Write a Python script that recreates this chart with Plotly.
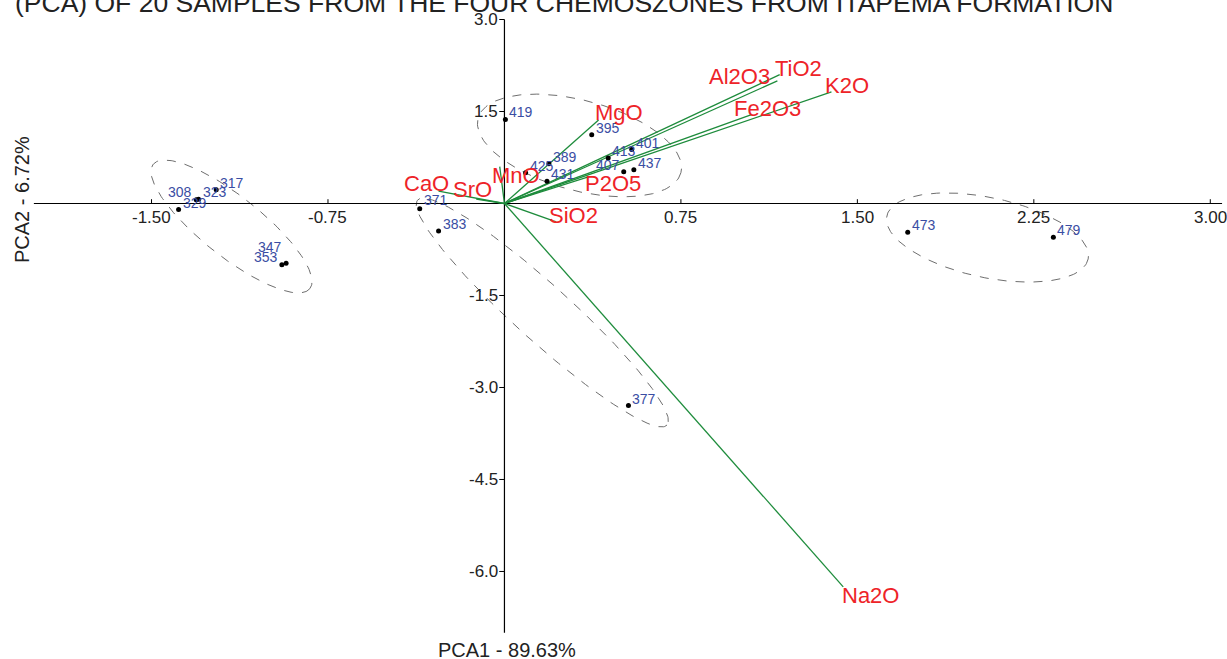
import numpy as np
import plotly.graph_objects as go

# ---------------- data ----------------
sample_ids = ["308", "317", "323", "329", "347", "353",
              "371", "377", "383",
              "389", "395", "401", "407", "413", "419", "425", "431", "437",
              "473", "479"]
pc1 = [-1.31, -1.225, -1.30, -1.385, -0.928, -0.946,
       -0.36, 0.527, -0.28,
       0.189, 0.371, 0.541, 0.507, 0.441, 0.004, 0.09, 0.181, 0.550,
       1.714, 2.333]
pc2 = [0.06, 0.225, 0.07, -0.098, -0.974, -1.0,
       -0.087, -3.295, -0.45,
       0.65, 1.12, 0.88, 0.517, 0.74, 1.37, 0.50, 0.364, 0.55,
       -0.468, -0.55]
# label side: 1 = right of dot, -1 = left of dot ; lift in px (up positive)
label_side = [-1, 1, 1, 1, -1, -1,
              1, 1, 1,
              1, 1, 1, -1, 1, 1,
              1, 1, 1,
              1, 1]
label_lift = [-2, -3, -3, -3, 6, -2,
              -1, -3, -3,
              -3, -3, -3, -3, -3, -3,
              -3, -3, -3,
              -3, -3]

variables = ["CaO", "SrO", "MnO", "MgO", "P2O5", "SiO2", "Al2O3", "TiO2", "K2O", "Fe2O3", "Na2O"]
load1 = [-0.28, -0.12, -0.02, 0.40, 0.36, 0.22, 1.17, 1.16, 1.39, 1.05, 1.44]
load2 = [0.20, 0.07, 0.60, 1.36, 0.44, -0.30, 2.10, 2.00, 1.82, 1.45, -6.25]
# label offsets in pixels (dx right, dy down) from vector tip
var_dx = [-12, -4, 16, 20, 24, 17, -40, 21, 16, 16, 27]
var_dy = [-8, -10, 9, -8, 7, -6, 2, -12, -6, -6, 9]

x_ticks = [-1.5, -0.75, 0.75, 1.5, 2.25, 3.0]
x_tick_text = ["-1.50", "-0.75", "0.75", "1.50", "2.25", "3.00"]
y_ticks = [3.0, 1.5, -1.5, -3.0, -4.5, -6.0]
y_tick_text = ["3.0", "1.5", "-1.5", "-3.0", "-4.5", "-6.0"]
x_axis_extent = [-2.0, 3.05]
y_axis_extent = [-7.0, 3.0]

# group ellipses: centre, semi-axis vector u, semi-axis vector v (data units)
ellipses = [
    ((-1.160, -0.375), (0.333, -1.013), (-0.079, -0.383)),
    ((0.319, 0.946), (0.431, -0.444), (-0.049, -0.710)),
    ((0.161, -1.778), (0.530, -1.834), (-0.079, -0.339)),
    ((2.053, -0.555), (0.428, -0.349), (-0.035, -0.638)),
]

title_text = "(PCA) OF 20 SAMPLES FROM THE FOUR CHEMOSZONES FROM ITAPEMA FORMATION"
x_title = "PCA1 - 89.63%"
y_title = "PCA2 - 6.72%"

FONT = "Arial, 'Liberation Sans', Helvetica, sans-serif"
GREEN = "#1E8C3C"
RED = "#EE2328"
BLUE = "#3A4DA3"

fig = go.Figure()

# ellipses
for (c, u, v) in ellipses:
    t = np.linspace(0, 2 * np.pi, 200)
    ex = c[0] + np.cos(t) * u[0] + np.sin(t) * v[0]
    ey = c[1] + np.cos(t) * u[1] + np.sin(t) * v[1]
    fig.add_trace(go.Scatter(x=ex, y=ey, mode="lines",
                             line=dict(color="#6e6e6e", width=1, dash="dash"),
                             hoverinfo="skip", showlegend=False))

# axis lines
fig.add_trace(go.Scatter(x=x_axis_extent, y=[0, 0], mode="lines",
                         line=dict(color="black", width=1.2), hoverinfo="skip", showlegend=False))
fig.add_trace(go.Scatter(x=[0, 0], y=y_axis_extent, mode="lines",
                         line=dict(color="black", width=1.2), hoverinfo="skip", showlegend=False))
# ticks
tx, ty = [], []
for v in x_ticks:
    tx += [v, v, None]
    ty += [0, 0.07, None]
fig.add_trace(go.Scatter(x=tx, y=ty, mode="lines", line=dict(color="black", width=1),
                         hoverinfo="skip", showlegend=False))
tx, ty = [], []
for v in y_ticks:
    tx += [0, -0.022, None]
    ty += [v, v, None]
fig.add_trace(go.Scatter(x=tx, y=ty, mode="lines", line=dict(color="black", width=1),
                         hoverinfo="skip", showlegend=False))

# loading vectors
for name, a, b in zip(variables, load1, load2):
    fig.add_trace(go.Scatter(x=[0, a], y=[0, b], mode="lines",
                             line=dict(color=GREEN, width=1.3), hoverinfo="skip", showlegend=False))

# samples
fig.add_trace(go.Scatter(x=pc1, y=pc2, mode="markers", text=sample_ids,
                         marker=dict(color="black", size=5), showlegend=False))

annotations = []
for sid, a, b, side, lift in zip(sample_ids, pc1, pc2, label_side, label_lift):
    annotations.append(dict(x=a, y=b, xref="x", yref="y", text=sid, showarrow=False,
                            xanchor="left" if side > 0 else "right", yanchor="bottom",
                            xshift=2 * side, yshift=lift,
                            font=dict(family=FONT, size=14, color=BLUE)))
for name, a, b, dx, dy in zip(variables, load1, load2, var_dx, var_dy):
    annotations.append(dict(x=a, y=b, xref="x", yref="y", text=name, showarrow=False,
                            xanchor="center", yanchor="middle", xshift=dx, yshift=-dy,
                            font=dict(family=FONT, size=22, color=RED)))
for v, s in zip(x_ticks, x_tick_text):
    annotations.append(dict(x=v, y=0, xref="x", yref="y", text=s, showarrow=False,
                            xanchor="center", yanchor="top", yshift=-2,
                            font=dict(family=FONT, size=17, color="#222")))
for v, s in zip(y_ticks, y_tick_text):
    annotations.append(dict(x=0, y=v, xref="x", yref="y", text=s, showarrow=False,
                            xanchor="right", yanchor="middle", xshift=-4,
                            font=dict(family=FONT, size=17, color="#222")))
annotations.append(dict(x=13 / 1227, y=1 - 20 / 659, xref="paper", yref="paper", text=title_text,
                        showarrow=False, xanchor="left", yanchor="bottom",
                        font=dict(family=FONT, size=26.5, color="#222")))
annotations.append(dict(x=507 / 1227, y=1 - 650 / 659, xref="paper", yref="paper", text=x_title,
                        showarrow=False, xanchor="center", yanchor="middle",
                        font=dict(family=FONT, size=20, color="#222")))
annotations.append(dict(x=22 / 1227, y=1 - 200 / 659, xref="paper", yref="paper", text=y_title,
                        showarrow=False, xanchor="center", yanchor="middle", textangle=-90,
                        font=dict(family=FONT, size=20, color="#222")))

fig.update_layout(
    width=1227, height=659,
    margin=dict(l=0, r=0, t=0, b=0),
    paper_bgcolor="white", plot_bgcolor="white",
    xaxis=dict(range=[-2.144, 3.071], visible=False, fixedrange=True),
    yaxis=dict(range=[-7.427, 3.318], visible=False, fixedrange=True),
    annotations=annotations,
    showlegend=False,
)

fig.write_html("out.html", config={"displayModeBar": False},
               post_script="document.body.style.margin='0';document.body.style.overflow='hidden';")
